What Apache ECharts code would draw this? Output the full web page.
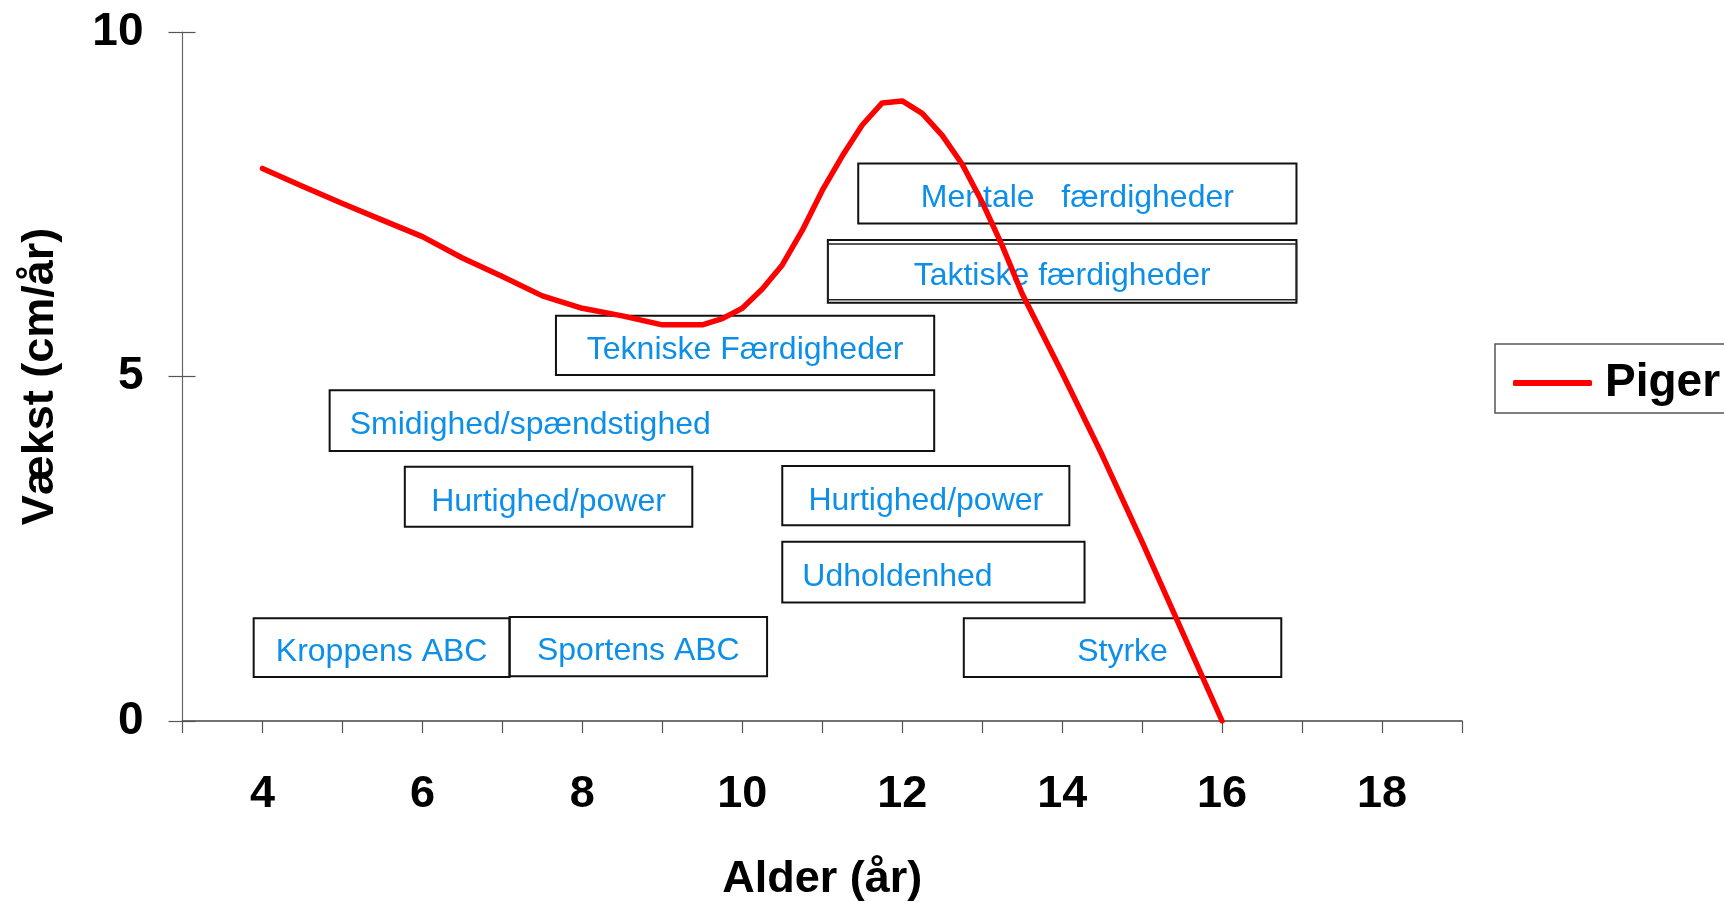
<!DOCTYPE html>
<html><head><meta charset="utf-8">
<script src="https://cdn.jsdelivr.net/npm/echarts@6/dist/echarts.min.js"></script>
<style>html,body{margin:0;padding:0;background:#fff}#chart{width:1724px;height:902px}</style>
</head><body><div id="chart"></div>
<script>
// ---- data ----
const ages   = [4, 4.5, 5, 5.5, 6, 6.5, 7, 7.5, 8, 8.5, 9, 9.5, 9.75, 10, 10.25, 10.5, 10.75, 11, 11.25, 11.5, 11.75, 12, 12.25, 12.5, 12.75, 13, 13.25, 13.5, 14, 14.5, 15, 15.5, 16];
const piger  = [8.02, 7.76, 7.51, 7.27, 7.03, 6.72, 6.45, 6.17, 5.99, 5.88, 5.75, 5.75, 5.84, 5.99, 6.27, 6.62, 7.12, 7.70, 8.20, 8.65, 8.97, 9.00, 8.82, 8.50, 8.08, 7.53, 6.90, 6.20, 5.05, 3.86, 2.60, 1.30, 0.00];
const xTickLabels = [4, 6, 8, 10, 12, 14, 16, 18];
const yTickLabels = [0, 5, 10];

// annotation boxes (age ranges and vertical extents in cm/år)
const boxLabels = ['Mentale   færdigheder', 'Taktiske færdigheder', 'Tekniske Færdigheder', 'Smidighed/spændstighed',
                   'Hurtighed/power', 'Hurtighed/power', 'Udholdenhed', 'Kroppens ABC', 'Sportens ABC', 'Styrke'];
const boxStart  = [11.45, 11.07, 7.67, 4.84, 5.78, 10.50, 10.50, 3.89, 7.09, 12.77];
const boxEnd    = [16.93, 16.93, 12.40, 12.40, 9.375, 14.09, 14.28, 7.09, 10.31, 16.74];
const boxTop    = [8.09, 6.98, 5.88, 4.80, 3.69, 3.70, 2.60, 1.49, 1.51, 1.49];
const boxBottom = [7.22, 6.07, 5.02, 3.92, 2.82, 2.84, 1.72, 0.64, 0.65, 0.64];

// ---- chart ----
const FONT = "'Liberation Sans', Arial, sans-serif";
const leftAligned = new Set([3, 6]);
const doubleBorder = new Set([1]);
const chart = echarts.init(document.getElementById('chart'), null, {renderer: 'canvas'});

const option = {
  animation: false,
  backgroundColor: '#fff',
  grid: {left: 182.5, right: 262, top: 32, bottom: 181, containLabel: false, outerBoundsMode: 'none'},
  legend: {
    data: ['Piger'],
    left: 1495, top: 344,
    padding: [16, 18, 7, 18],
    borderColor: '#555', borderWidth: 1.5,
    icon: 'roundRect',
    itemWidth: 79, itemHeight: 6,
    textStyle: {fontFamily: FONT, fontSize: 46, fontWeight: 'bold', color: '#000', padding: [0, 0, 0, 8]}
  },
  xAxis: {
    type: 'value', min: 3, max: 19, interval: 1,
    name: 'Alder (år)', nameLocation: 'middle', nameGap: 136,
    nameTextStyle: {fontFamily: FONT, fontSize: 45, fontWeight: 'bold', color: '#000'},
    axisLine: {onZero: false, lineStyle: {color: '#444', width: 1.5}},
    axisTick: {length: 12, lineStyle: {color: '#555', width: 1.2}},
    splitLine: {show: false},
    axisLabel: {
      margin: 51, fontFamily: FONT, fontSize: 45, fontWeight: 'bold', color: '#000',
      formatter: v => xTickLabels.includes(v) ? String(v) : ''
    }
  },
  yAxis: [{
    type: 'value', min: 0, max: 10, interval: 5,
    name: 'Vækst (cm/år)', nameLocation: 'middle', nameGap: 119, nameRotate: 90,
    nameTextStyle: {fontFamily: FONT, fontSize: 45, fontWeight: 'bold', color: '#000'},
    axisLine: {show: true, onZero: false, lineStyle: {color: '#666', width: 1.2}},
    axisTick: {show: true, length: 14, lineStyle: {color: '#555', width: 1.2}},
    splitLine: {show: false},
    axisLabel: {
      margin: 39, fontFamily: FONT, fontSize: 46, fontWeight: 'bold', color: '#000',
      formatter: v => yTickLabels.includes(v) ? String(v) : ''
    }
  }, {
    type: 'value', min: 0, max: 10, interval: 5, position: 'left',
    axisLine: {show: false},
    axisTick: {show: true, inside: true, length: 13, lineStyle: {color: '#555', width: 1.2}},
    axisLabel: {show: false},
    splitLine: {show: false}
  }],
  series: [{
    type: 'custom',
    name: 'boxes',
    z: 2,
    silent: true,
    encode: {x: [0, 1], y: [2, 3]},
    data: boxLabels.map((_, i) => [boxStart[i], boxEnd[i], boxTop[i], boxBottom[i]]),
    renderItem(params, api) {
      const i = params.dataIndex;
      const tl = api.coord([api.value(0), api.value(2)]);
      const br = api.coord([api.value(1), api.value(3)]);
      const x = tl[0], y = tl[1], w = br[0] - tl[0], h = br[1] - tl[1];
      const children = [{
        type: 'rect',
        shape: {x, y, width: w, height: h},
        style: {fill: 'none', stroke: '#111', lineWidth: 2}
      }];
      if (doubleBorder.has(i)) {
        children.push({
          type: 'rect',
          shape: {x, y: y + 4, width: w, height: h - 7},
          style: {fill: 'none', stroke: '#222', lineWidth: 1.5}
        });
      }
      const left = leftAligned.has(i);
      children.push({
        type: 'text',
        style: {
          text: boxLabels[i],
          x: left ? x + 20 : x + w / 2,
          y: y + h / 2 + 5,
          align: left ? 'left' : 'center',
          verticalAlign: 'middle',
          fontFamily: FONT, fontSize: 32, fill: '#0D8FE8'
        }
      });
      return {type: 'group', children};
    }
  }, {
    type: 'line',
    name: 'Piger',
    z: 5,
    data: ages.map((a, i) => [a, piger[i]]),
    showSymbol: false, symbol: 'none',
    smooth: false,
    lineStyle: {color: '#FF0000', width: 5.5, cap: 'round', join: 'round'},
    itemStyle: {color: '#FF0000'}
  }]
};
chart.setOption(option);
</script>
</body></html>
